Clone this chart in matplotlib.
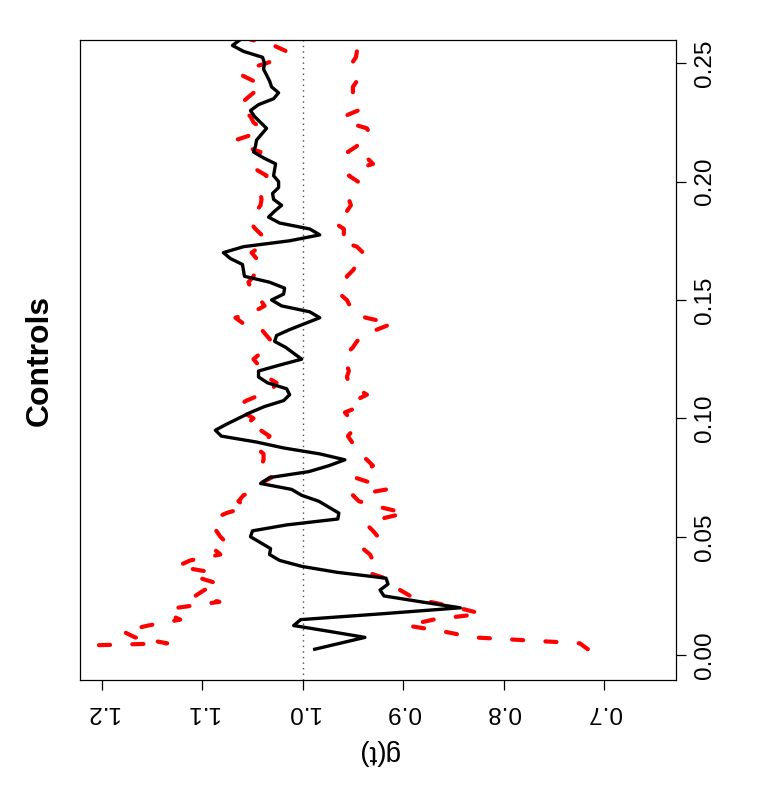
import numpy as np
import matplotlib
matplotlib.use("Agg")
import matplotlib.pyplot as plt

plt.rcParams["font.family"] = ["Liberation Sans", "DejaVu Sans"]
plt.rcParams["lines.scale_dashes"] = False

# distance grid r (step 0.0025) and the three curves
r_step = 0.0025
r = np.arange(1, 105) * r_step

g_obs = [
    0.988, 0.963, 0.938, 0.973, 1.009, 1.002, 0.920, 0.843, 0.882, 0.919,
    0.923, 0.915, 0.917, 0.966, 1.001, 1.023, 1.033, 1.032, 1.042, 1.052,
    1.050, 1.016, 0.965, 0.964, 0.974, 0.984, 1.001, 1.011, 1.042, 1.033,
    0.994, 0.974, 0.958, 0.983, 1.019, 1.046, 1.081, 1.087, 1.076, 1.064,
    1.052, 1.038, 1.019, 1.013, 1.016, 1.035, 1.044, 1.044, 1.023, 1.001,
    1.009, 1.017, 1.028, 1.026, 1.013, 0.998, 0.983, 0.993, 1.021, 1.031,
    1.019, 1.018, 1.033, 1.058, 1.059, 1.060, 1.072, 1.079, 1.059, 1.013,
    0.983, 0.993, 1.023, 1.034, 1.028, 1.021, 1.029, 1.030, 1.024, 1.024,
    1.029, 1.028, 1.027, 1.039, 1.049, 1.047, 1.046, 1.041, 1.036, 1.042,
    1.048, 1.052, 1.044, 1.029, 1.024, 1.031, 1.033, 1.036, 1.039, 1.038,
    1.040, 1.059, 1.070, 1.062,
]

g_upper = [
    1.350, 1.135, 1.167, 1.179, 1.154, 1.122, 1.135, 1.125, 1.083, 1.107,
    1.098, 1.083, 1.102, 1.091, 1.125, 1.112, 1.082, 1.089, 1.076, 1.082,
    1.086, 1.087, 1.089, 1.076, 1.056, 1.064, 1.059, 1.046, 1.042, 1.031,
    1.042, 1.041, 1.039, 1.039, 1.046, 1.038, 1.033, 1.042, 1.056, 1.049,
    1.059, 1.066, 1.056, 1.042, 1.030, 1.026, 1.036, 1.041, 1.044, 1.049,
    1.042, 1.036, 1.031, 1.036, 1.041, 1.059, 1.067, 1.049, 1.038, 1.042,
    1.047, 1.052, 1.054, 1.049, 1.047, 1.041, 1.046, 1.051, 1.042, 1.046,
    1.041, 1.047, 1.052, 1.049, 1.046, 1.042, 1.041, 1.042, 1.039, 1.038,
    1.036, 1.046, 1.052, 1.046, 1.042, 1.059, 1.067, 1.049, 1.041, 1.049,
    1.052, 1.059, 1.063, 1.056, 1.049, 1.040, 1.049, 1.061, 1.056, 1.036,
    1.021, 1.016, 1.029, 1.052,
]

g_lower = [
    0.716, 0.724, 0.830, 0.860, 0.896, 0.870, 0.822, 0.845, 0.873, 0.893,
    0.903, 0.906, 0.918, 0.936, 0.933, 0.930, 0.933, 0.940, 0.933, 0.925,
    0.930, 0.936, 0.923, 0.898, 0.923, 0.944, 0.950, 0.916, 0.930, 0.948,
    0.940, 0.930, 0.936, 0.943, 0.946, 0.951, 0.955, 0.950, 0.948, 0.953,
    0.958, 0.943, 0.948, 0.936, 0.946, 0.954, 0.956, 0.954, 0.956, 0.959,
    0.956, 0.950, 0.946, 0.940, 0.926, 0.911, 0.937, 0.951, 0.953, 0.956,
    0.963, 0.959, 0.956, 0.956, 0.950, 0.946, 0.948, 0.940, 0.946, 0.963,
    0.959, 0.959, 0.968, 0.963, 0.956, 0.952, 0.954, 0.950, 0.946, 0.945,
    0.954, 0.948, 0.930, 0.936, 0.955, 0.946, 0.941, 0.933, 0.936, 0.956,
    0.959, 0.945, 0.951, 0.953, 0.950, 0.950, 0.946, 0.948, 0.951, 0.951,
    0.947, 0.946, 0.945, 0.945,
]

g_ticks = [0.7, 0.8, 0.9, 1.0, 1.1, 1.2]
r_ticks = [0.00, 0.05, 0.10, 0.15, 0.20, 0.25]

# the R plot was rotated 90 deg counter-clockwise: g(t) runs right-to-left, t runs upward
fig = plt.figure(figsize=(7.77, 8.0), dpi=100)
ax = fig.add_axes([80 / 777, 1 - 680 / 800, 596 / 777, 640 / 800])

ax.axvline(1.0, color="0.3", lw=1.0, ls=(0, (1, 3)))
ax.plot(g_upper, r, color="red", lw=3, dashes=(8, 16), dash_capstyle="round")
ax.plot(g_lower, r, color="red", lw=3, dashes=(8, 16), dash_capstyle="round")
ax.plot(g_obs, r, color="black", lw=2.4, solid_joinstyle="round")

ax.set_xlim(1.2218, 0.6282)
ax.set_ylim(-0.0105, 0.2598)

ax.set_xticks(g_ticks)
ax.set_xticklabels([f"{v:.1f}" for v in g_ticks])
ax.yaxis.tick_right()
ax.set_yticks(r_ticks)
ax.set_yticklabels([f"{v:.2f}" for v in r_ticks])

ax.tick_params(axis="x", labelrotation=180, length=7, width=0.9, pad=8, labelsize=17.5)
ax.tick_params(axis="y", labelrotation=90, length=7, width=0.9, pad=6, labelsize=17.5)
for lab in ax.get_yticklabels():
    lab.set_va("center")
for sp in ax.spines.values():
    sp.set_linewidth(0.9)

fig.text(378 / 777, 1 - 752 / 800, "g(t)", rotation=180, ha="center", va="center", fontsize=20)
fig.text(40 / 777, 1 - 360 / 800, "Controls", rotation=90, ha="center", va="center",
         fontsize=23, fontweight="bold")

fig.savefig("out.png", dpi=100)
